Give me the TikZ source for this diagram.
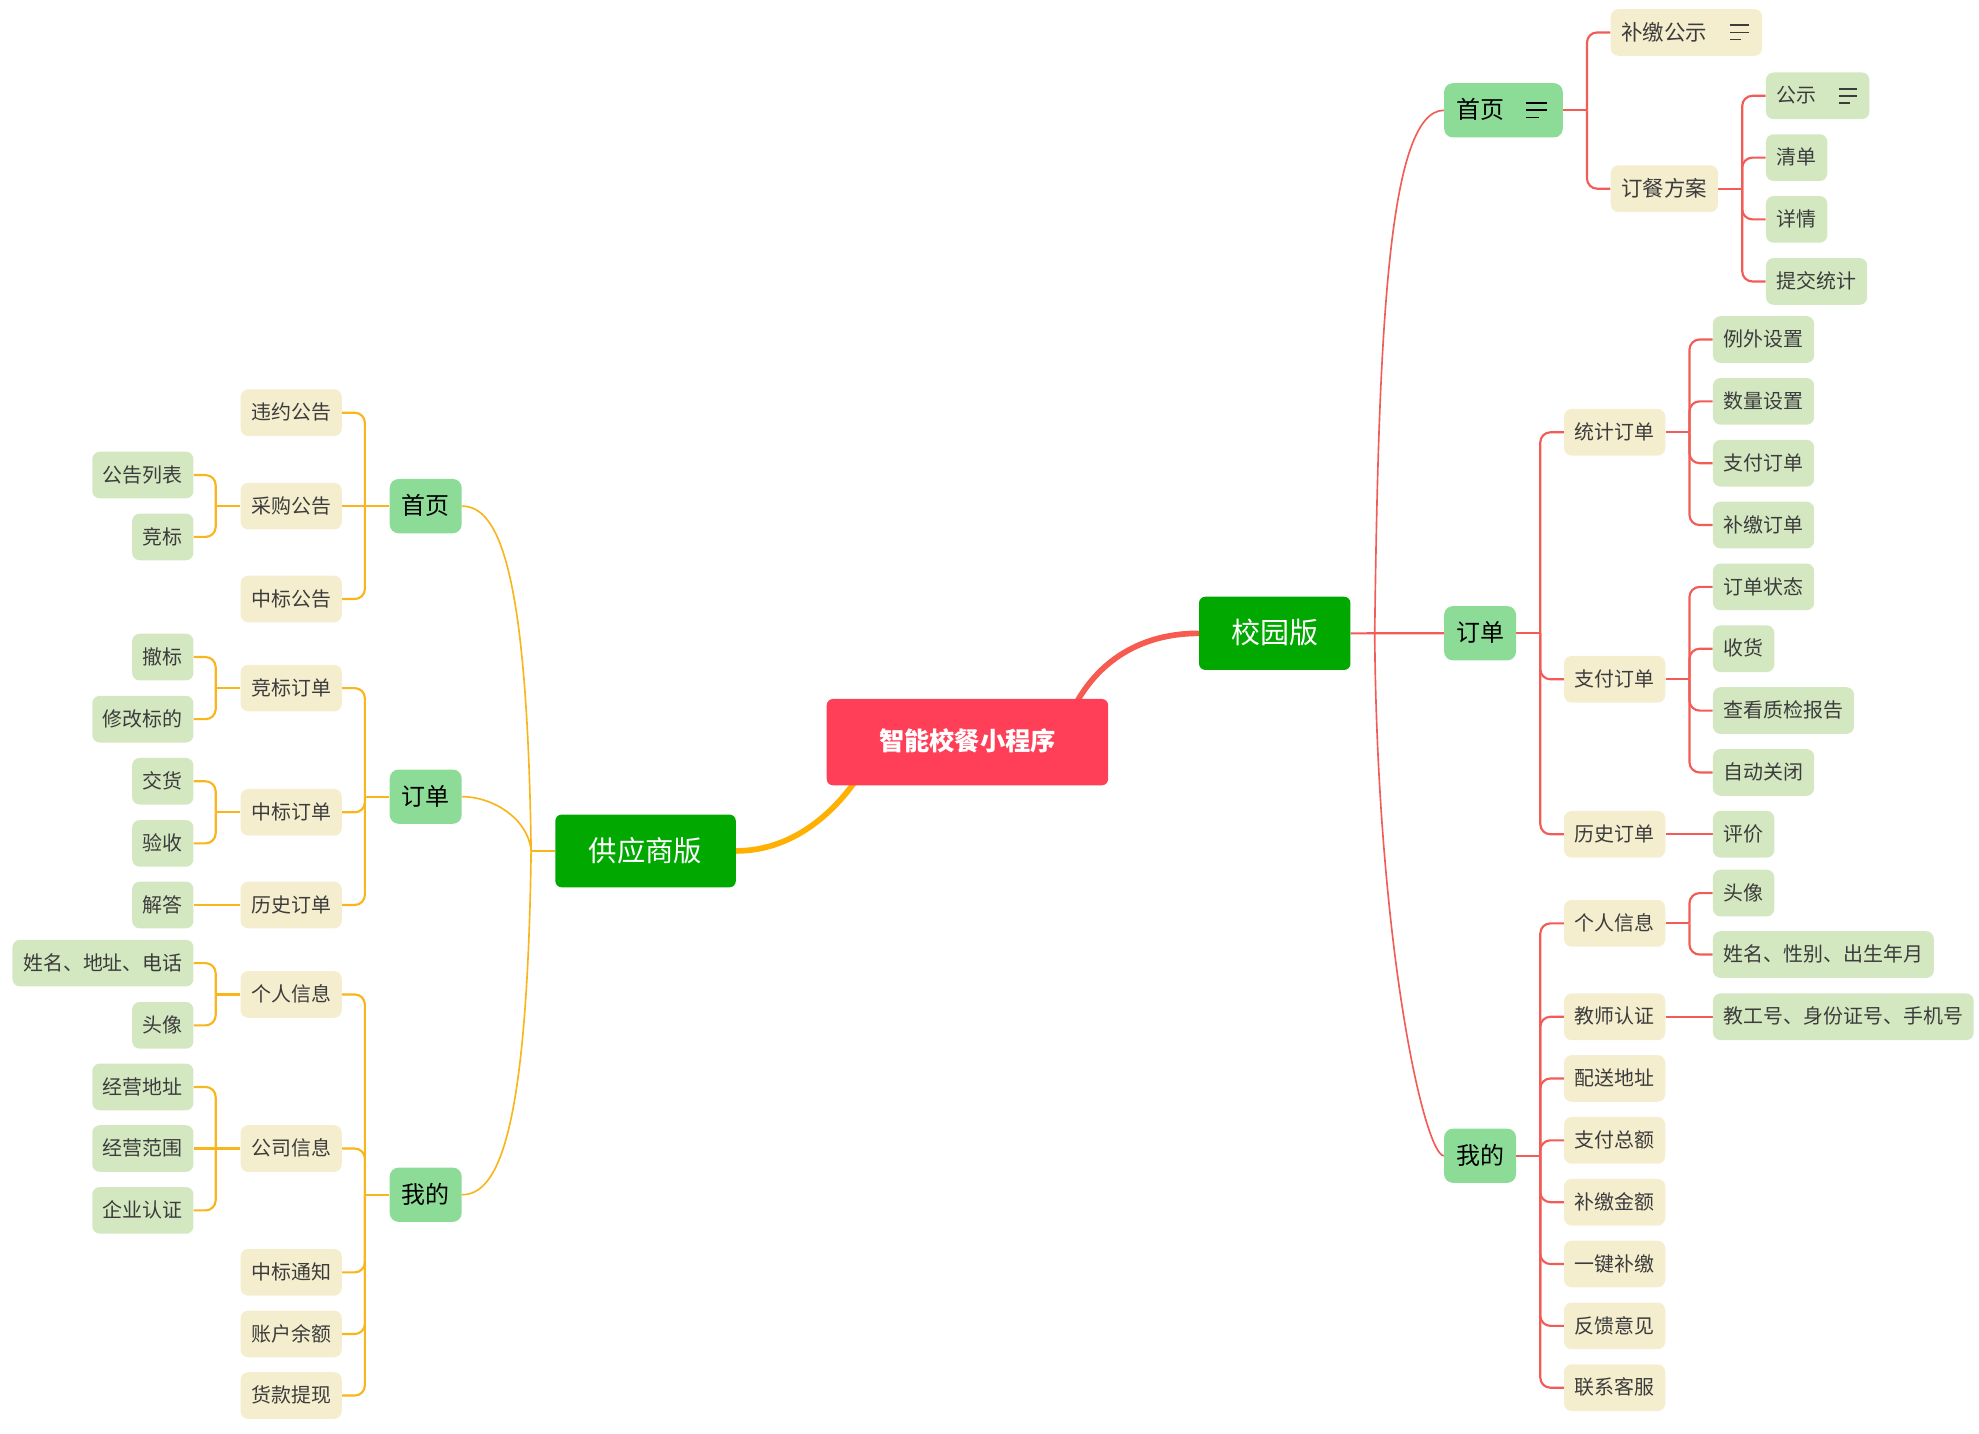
\documentclass[tikz,border=0pt]{standalone}
\usepackage{fontspec}
\setmainfont{Noto Sans CJK SC}
\usetikzlibrary{backgrounds}

\definecolor{rootred}{RGB}{255,62,88}
\definecolor{mainbranch}{RGB}{0,168,0}
\definecolor{topicgreen}{RGB}{140,220,152}
\definecolor{subcream}{RGB}{244,238,206}
\definecolor{leafgreen}{RGB}{211,232,193}
\definecolor{lineorange}{RGB}{249,182,28}
\definecolor{linered}{RGB}{241,92,86}
\definecolor{trunkorange}{RGB}{255,176,0}
\definecolor{trunkred}{RGB}{247,90,78}
\definecolor{txtgray}{RGB}{60,60,60}

\tikzset{pics/listicon/.style={code={
  \draw[line width=1.4pt] (0,-5.6) -- (#1,-5.6) (0,0) -- (#1,0) (0,5.6) -- (0.6*#1,5.6);
}}}

\begin{document}
\begin{tikzpicture}[x=1pt, y=-1pt,
  box/.style={rounded corners=6pt, inner xsep=8.5pt, inner ysep=0pt, minimum height=37pt,
    text height=13.6pt, text depth=2.2pt, text=txtgray, font=\fontsize{15.8}{16}\selectfont},
  topic/.style={box, fill=topicgreen, rounded corners=7pt, minimum height=43pt, inner xsep=9.5pt,
    text height=16.3pt, text depth=2.7pt, text=black, font=\fontsize{19}{20}\selectfont},
  sub/.style={box, fill=subcream},
  bigsub/.style={sub, text height=14.6pt, text depth=2.4pt, font=\fontsize{17}{18}\selectfont},
  leaf/.style={box, fill=leafgreen},
  major/.style={rounded corners=5pt, inner sep=0pt, text=white, fill=mainbranch,
    text height=19pt, text depth=3pt},
  yline/.style={draw=lineorange, line width=1.7pt},
  rline/.style={draw=linered, line width=1.7pt},
  hubline/.style={line width=1.3pt},
  elbow/.style={rounded corners=8pt}]
  \useasboundingbox (0,0) rectangle (1568,1136);

  % centre and the two versions
  \node[major, fill=rootred, minimum width=223pt, minimum height=68.4pt,
    text height=17pt, font=\bfseries\fontsize{20}{20}\selectfont] (root) at (766.5,588) {智能校餐小程序};
  \node[major, minimum width=143pt, minimum height=57.6pt,
    font=\fontsize{22.5}{23}\selectfont] (supplier) at (511.5,674.2) {供应商版};
  \node[major, minimum width=120pt, minimum height=58pt,
    font=\fontsize{23}{23}\selectfont] (campus) at (1010,501.8) {校园版};

  % supplier side
  \node[topic, anchor=east] (lhome) at (366,401) {首页};
  \node[topic, anchor=east] (lorder) at (366,631.2) {订单};
  \node[topic, anchor=east] (lmine) at (366,946.6) {我的};
  \foreach \n/\y/\txt in {breach/327/违约公告, purchase/401/采购公告, award/474.6/中标公告,
      bidord/545.2/竞标订单, awardord/643.6/中标订单, lhist/717/历史订单, linfo/787.9/个人信息,
      company/910/公司信息, notice/1008.1/中标通知, balance/1056.9/账户余额, withdraw/1105.7/货款提现}
    \node[sub, anchor=east] (\n) at (271,\y) {\txt};
  \foreach \n/\y/\txt in {annlist/376.4/公告列表, bid/425.4/竞标, retract/520.6/撤标, modify/569.8/修改标的,
      deliver/619/交货, accept/668.2/验收, answer/717/解答, contact/763.1/姓名、地址、电话,
      lavatar/812.4/头像, addr/861.2/经营地址, scope/910/经营范围, certify/959/企业认证}
    \node[leaf, anchor=east] (\n) at (153.5,\y) {\txt};

  % campus side
  \node[topic, anchor=west] (rhome) at (1144,87.4) {首页\kern37pt};
  \node[topic, anchor=west] (rorder) at (1144,501.7) {订单};
  \node[topic, anchor=west] (rmine) at (1144,915.7) {我的};
  \node[bigsub, anchor=west] (supnote) at (1276,25.7) {补缴公示\kern35pt};
  \node[bigsub, anchor=west] (plan) at (1276,149.5) {订餐方案};
  \foreach \n/\y/\txt in {stat/342.5/统计订单, payord/538.2/支付订单, rhist/661/历史订单,
      rinfo/731.6/个人信息, teacher/805.6/教师认证, deliv/854.5/配送地址, total/903.5/支付总额,
      supamt/952.5/补缴金额, onekey/1001.5/一键补缴, feedback/1050.5/反馈意见, service/1099.5/联系客服}
    \node[sub, anchor=west] (\n) at (1239,\y) {\txt};
  \node[leaf, anchor=west] (pub) at (1399,75.9) {公示\kern33.4pt};
  \foreach \n/\y/\txt in {bill/124.9/清单, detail/173.8/详情, submit/223/提交统计}
    \node[leaf, anchor=west] (\n) at (1399,\y) {\txt};
  \foreach \n/\y/\txt in {except/269/例外设置, qty/318/数量设置, pay/367/支付订单, supord/416/补缴订单,
      status/465/订单状态, receive/514/收货, report/563/查看质检报告, close/612/自动关闭, rate/661/评价,
      ravatar/707.6/头像, profile/756.3/姓名、性别、出生年月, staffid/805.6/教工号、身份证号、手机号}
    \node[leaf, anchor=west] (\n) at (1357,\y) {\txt};

  % list icons
  \path ([xshift=-29pt]rhome.east) pic[black] {listicon=16.5};
  \path ([xshift=-25.5pt]supnote.east) pic[txtgray] {listicon=14.5};
  \path ([xshift=-24.5pt]pub.east) pic[txtgray] {listicon=14.5};

  \begin{pgfonlayer}{background}
    % trunks
    \draw[trunkorange, line width=4.5pt] (supplier.east) .. controls +(42,0) and +(-22,33)
      .. ([xshift=26pt,yshift=8pt]root.south west);
    \draw[trunkred, line width=4.5pt] ([xshift=-28pt,yshift=-8pt]root.north east)
      .. controls +(22,-43) and +(-40,0) .. (campus.west);

    % supplier: versions to topics
    \draw[yline] (supplier.west) -- ++(-19,0) coordinate (lhub);
    \draw[yline, hubline] (lhub) .. controls +(-3,-224) and +(29,0) .. (lhome.east);
    \draw[yline, hubline] (lhub) .. controls +(-2,-25) and +(25,0) .. (lorder.east);
    \draw[yline, hubline] (lhub) .. controls +(-3,223) and +(29,0) .. (lmine.east);

    \draw[yline] (lhome.west) -- ++(-19.5,0) coordinate (lhomej);
    \foreach \c in {breach,award} \draw[yline, elbow] (lhomej) |- (\c.east);
    \draw[yline] (lhomej) -- (purchase.east);
    \draw[yline] (lorder.west) -- ++(-19.5,0) coordinate (lorderj);
    \foreach \c in {bidord,awardord,lhist} \draw[yline, elbow] (lorderj) |- (\c.east);
    \draw[yline] (lmine.west) -- ++(-19.5,0) coordinate (lminej);
    \foreach \c in {linfo,company,notice,balance,withdraw} \draw[yline, elbow] (lminej) |- (\c.east);

    \draw[yline] (purchase.west) -- ++(-19.5,0) coordinate (purchasej);
    \foreach \c in {annlist,bid} \draw[yline, elbow] (purchasej) |- (\c.east);
    \draw[yline] (bidord.west) -- ++(-19.5,0) coordinate (bidordj);
    \foreach \c in {retract,modify} \draw[yline, elbow] (bidordj) |- (\c.east);
    \draw[yline] (awardord.west) -- ++(-19.5,0) coordinate (awardordj);
    \foreach \c in {deliver,accept} \draw[yline, elbow] (awardordj) |- (\c.east);
    \draw[yline] (lhist.west) -- (answer.east);
    \draw[yline] (linfo.west) -- ++(-19.5,0) coordinate (linfoj);
    \foreach \c in {contact,lavatar} \draw[yline, elbow] (linfoj) |- (\c.east);
    \draw[yline] (company.west) -- ++(-19.5,0) coordinate (companyj);
    \foreach \c in {addr,certify} \draw[yline, elbow] (companyj) |- (\c.east);
    \draw[yline] (companyj) -- (scope.east);

    % campus: versions to topics
    \draw[rline] (campus.east) -- (rorder.west);
    \coordinate (rhub) at ([xshift=19pt]campus.east);
    \draw[rline, hubline] (rhub) .. controls +(3,-230) and +(-45,0) .. (rhome.west);
    \draw[rline, hubline] (rhub) .. controls +(2,250) and +(-15,0) .. (rmine.west);

    \draw[rline] (rhome.east) -- ++(19,0) coordinate (rhomej);
    \foreach \c in {supnote,plan} \draw[rline, elbow] (rhomej) |- (\c.west);
    \draw[rline] (plan.east) -- ++(19,0) coordinate (planj);
    \foreach \c in {pub,bill,detail,submit} \draw[rline, elbow] (planj) |- (\c.west);

    \draw[rline] (rorder.east) -- ++(19,0) coordinate (rorderj);
    \foreach \c in {stat,payord,rhist} \draw[rline, elbow] (rorderj) |- (\c.west);
    \draw[rline] (stat.east) -- ++(19,0) coordinate (statj);
    \foreach \c in {except,qty,pay,supord} \draw[rline, elbow] (statj) |- (\c.west);
    \draw[rline] (payord.east) -- ++(19,0) coordinate (payordj);
    \foreach \c in {status,receive,report,close} \draw[rline, elbow] (payordj) |- (\c.west);
    \draw[rline] (rhist.east) -- (rate.west);

    \draw[rline] (rmine.east) -- ++(19,0) coordinate (rminej);
    \foreach \c in {rinfo,teacher,deliv,total,supamt,onekey,feedback,service}
      \draw[rline, elbow] (rminej) |- (\c.west);
    \draw[rline] (rinfo.east) -- ++(19,0) coordinate (rinfoj);
    \foreach \c in {ravatar,profile} \draw[rline, elbow] (rinfoj) |- (\c.west);
    \draw[rline] (teacher.east) -- (staffid.west);
  \end{pgfonlayer}
\end{tikzpicture}
\end{document}
